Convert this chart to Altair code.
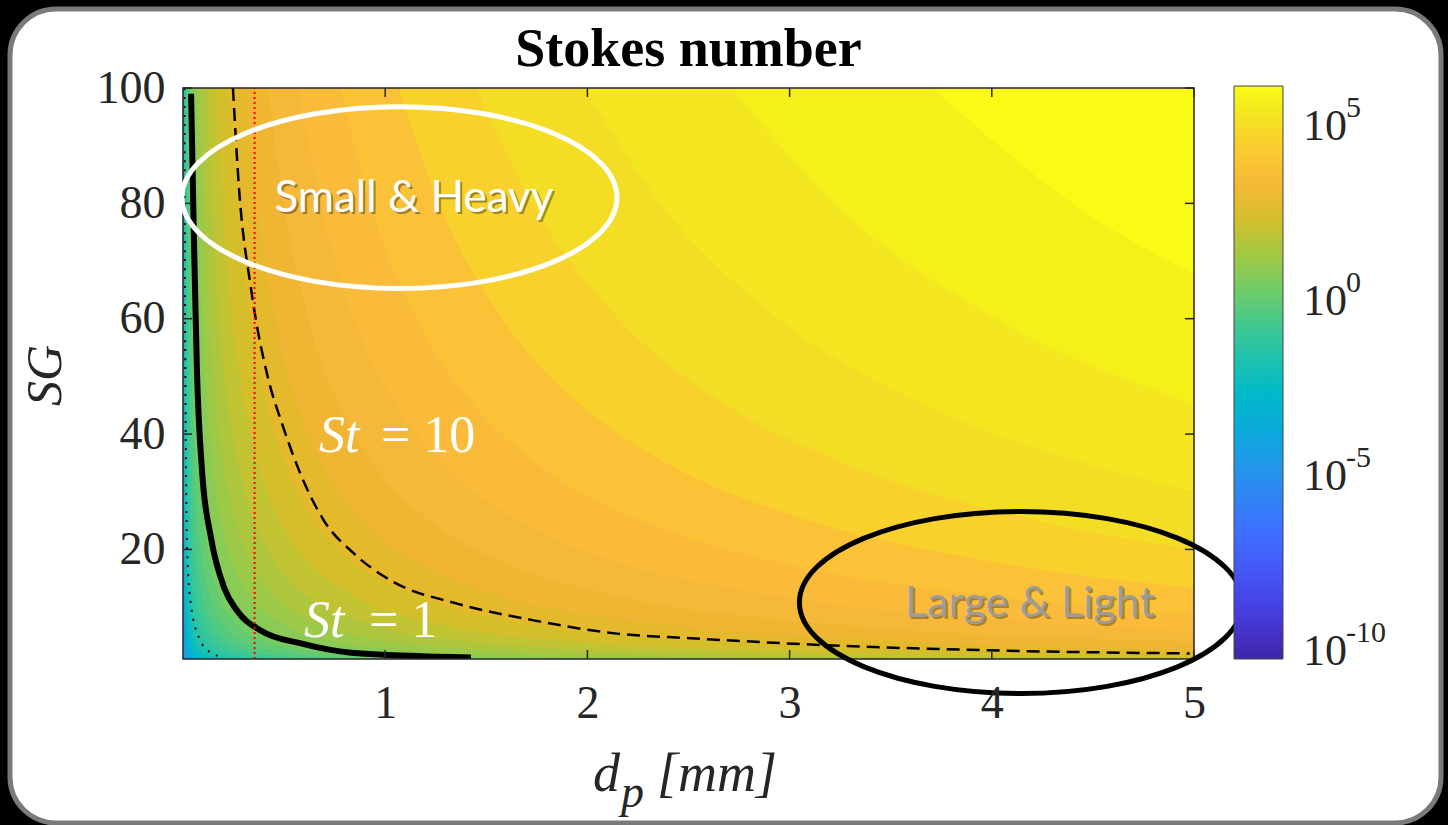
import altair as alt
import pandas as pd

# ---------------- values ----------------
# SG values at which the filled-contour boundaries were read
SG_PTS = [100, 80, 60, 45, 35, 25, 18, 12, 7, 4, 2.5, 1.6, 1.2, 1]

# d_p [mm] of each filled-contour boundary at SG_PTS (read until the curve leaves the plot)
BAND_D = [
    [3.705, 4.400, 5.488],
    [2.714, 3.223, 4.021, 5.017],
    [1.987, 2.360, 2.944, 3.673, 4.457, 5.770],
    [1.454, 1.727, 2.154, 2.688, 3.262, 4.222, 5.437],
    [1.066, 1.266, 1.579, 1.970, 2.391, 3.095, 3.985, 5.446],
    [0.779, 0.925, 1.154, 1.440, 1.748, 2.263, 2.913, 3.981, 6.023],
    [0.571, 0.678, 0.845, 1.055, 1.280, 1.657, 2.134, 2.916, 4.411, 6.783],
    [0.419, 0.497, 0.620, 0.774, 0.939, 1.215, 1.565, 2.139, 3.235, 4.975, 7.143],
    [0.307, 0.364, 0.454, 0.566, 0.687, 0.890, 1.146, 1.566, 2.369, 3.643, 5.230],
    [0.224, 0.266, 0.332, 0.414, 0.503, 0.651, 0.838, 1.146, 1.733, 2.665, 3.826, 5.392],
    [0.164, 0.195, 0.243, 0.304, 0.368, 0.477, 0.614, 0.839, 1.270, 1.952, 2.803, 3.950, 4.929, 5.670],
    [0.120, 0.143, 0.178, 0.222, 0.270, 0.349, 0.449, 0.614, 0.929, 1.429, 2.051, 2.891, 3.608, 4.150],
    [0.0881, 0.1046, 0.1304, 0.1628, 0.1975, 0.2557, 0.3292, 0.450, 0.681, 1.047, 1.503, 2.118, 2.643, 3.040],
    [0.0646, 0.0767, 0.0957, 0.1194, 0.1449, 0.1876, 0.2415, 0.330, 0.499, 0.768, 1.102, 1.553, 1.939, 2.230],
    [0.0472, 0.0561, 0.0699, 0.0873, 0.1059, 0.1371, 0.1765, 0.2412, 0.365, 0.561, 0.806, 1.135, 1.417, 1.630],
    [0.0346, 0.0411, 0.0512, 0.0639, 0.0776, 0.1004, 0.1293, 0.1767, 0.2673, 0.411, 0.590, 0.832, 1.038, 1.194],
    [0.0253, 0.0301, 0.0375, 0.0468, 0.0568, 0.0735, 0.0947, 0.1294, 0.1957, 0.301, 0.432, 0.609, 0.760, 0.874],
    [0.0185, 0.0220, 0.0275, 0.0343, 0.0416, 0.0538, 0.0693, 0.0947, 0.1433, 0.2204, 0.3164, 0.4458, 0.5564, 0.640],
    [0.0136, 0.0161, 0.0201, 0.0251, 0.0305, 0.0394, 0.0508, 0.0694, 0.1050, 0.1615, 0.2318, 0.3267, 0.4077, 0.469],
    [0.0099, 0.0118, 0.0147, 0.0184, 0.0223, 0.0289, 0.0371, 0.0508, 0.0768, 0.1181, 0.1695, 0.2389, 0.2982, 0.343],
    [0.0073, 0.0086, 0.0108, 0.0134, 0.0163, 0.0211, 0.0272, 0.0371, 0.0562, 0.0864, 0.1241, 0.1748, 0.2182, 0.251],
    [0.0053, 0.0063, 0.0079, 0.0099, 0.0120, 0.0155, 0.0199, 0.0272, 0.0412, 0.0634, 0.0910, 0.1282, 0.1600, 0.184],
    [0.0029, 0.0034, 0.0043, 0.0054, 0.0065, 0.0084, 0.0108, 0.0148, 0.0224, 0.0344, 0.0494, 0.0697, 0.0869, 0.100],
    [0.0014, 0.0017, 0.0021, 0.0026, 0.0032, 0.0042, 0.0053, 0.0073, 0.0110, 0.0170, 0.0244, 0.0343, 0.0429, 0.0493],
]
# log10 colour value of the band lying above each boundary
BAND_C = [5.75, 5.4, 5.05, 4.7, 4.2, 3.6, 3.25, 3.0, 2.75, 2.4, 2.0, 1.6, 1.2, 0.85,
          0.5, 0.1, -0.3, -0.65, -1.0, -1.35, -1.7, -2.05, -2.6, -3.4]
BASE_C = -4.6

# St = 1 (thick solid), St = 10 (dashed), St = 0.1 (dotted) iso-lines
ST1_D = [0.040, 0.054, 0.069, 0.094, 0.138, 0.203, 0.267, 0.386, 0.583, 0.831, 1.424]
ST1_SG = [99.0, 73.9, 51.0, 33.7, 22.1, 13.4, 9.4, 5.9, 3.7, 2.1, 1.27]
ST10_D = [0.247, 0.277, 0.336, 0.425, 0.485, 0.574, 0.697, 0.845, 1.028, 1.355, 1.735,
          2.146, 2.512, 3.248, 3.990, 4.979]
ST10_SG = [100, 82.6, 65.3, 49.1, 42.3, 33.7, 25.0, 19.3, 14.6, 10.6, 7.7, 5.4, 4.6, 3.3, 2.5, 1.96]
ST01_D = [0.007, 0.009, 0.0125, 0.016, 0.021, 0.038, 0.079, 0.137, 0.203]
ST01_SG = [100, 70, 45, 30, 19.3, 10.7, 4.7, 2.1, 1.27]
RED_D = 0.354

X_TICKS = [1, 2, 3, 4, 5]
Y_TICKS = [20, 40, 60, 80, 100]
CBAR_TICKS = [-10, -5, 0, 5]          # colour-bar ticks, log10 scale
CBAR_EXP = ["-10", "-5", "0", "5"]    # exponents shown as 10^x

TITLE = "Stokes number"
# annotations: (text, d, SG)
NOTE_SH = ("Small & Heavy", 1.142, 78.5)
NOTE_LL = ("Large & Light", 4.189, 8.3)
ST10_NOTE = ("St", "= 10", 0.673, 0.979, 36.9)
ST1_NOTE = ("St", "= 1", 0.598, 0.920, 4.8)
ELL_W = (1.0705, 81.0)
ELL_B = (4.144, 10.8)

# ---------------- styling ----------------
X_MIN, X_MAX = 0.0, 5.0
SG_MIN, SG_MAX = 1.0, 100.0
W, H = 1011, 571
CMIN, CMAX = -10.57, 5.8
CB_X, CB_Y, CB_W, CB_L = 1051, -2, 49, 573   # colour bar box, relative to plot corner
PARULA_POS = [0.0, 0.06, 0.111, 0.167, 0.222, 0.278, 0.333, 0.389, 0.444, 0.5, 0.556,
              0.611, 0.667, 0.722, 0.778, 0.81, 0.84, 0.875, 0.905, 0.937, 0.968, 1.0]
PARULA_HEX = ["#3e26a8", "#4535d4", "#4747eb", "#435bf8", "#3e6fff", "#3283f4", "#2796eb",
              "#19a7de", "#08b5d0", "#1cbfb8", "#31c69f", "#57ca7c", "#81cc59", "#b0c63c",
              "#dcbd29", "#eeb532", "#fbb93b", "#fcc636", "#f8d22b", "#f3df24", "#f5ec1c",
              "#f9fb15"]
SERIF = "Liberation Serif"
INK = "#262626"

xs = alt.Scale(domain=[X_MIN, X_MAX], nice=False, zero=False)
ys = alt.Scale(domain=[SG_MIN, SG_MAX], nice=False, zero=False)
cs = alt.Scale(domain=[CMIN + p * (CMAX - CMIN) for p in PARULA_POS], range=PARULA_HEX)

xaxis = alt.Axis(values=X_TICKS, title=None, ticks=False, domain=False, grid=False,
                 labelFont=SERIF, labelFontSize=46, labelColor=INK, labelPadding=22,
                 labelFlush=False, format="d", zindex=1)
yaxis = alt.Axis(values=Y_TICKS, title="SG", ticks=False, domain=False, grid=False,
                 labelFont=SERIF, labelFontSize=46, labelColor=INK, labelPadding=18,
                 format="d", zindex=1,
                 titleFont=SERIF, titleFontStyle="italic", titleFontWeight="normal",
                 titleFontSize=50, titleColor=INK, titleX=-138, titleY=287, titleAngle=270,
                 titleAlign="center", titleBaseline="middle")
legend = alt.Legend(title=None, orient="none", legendX=CB_X, legendY=CB_Y, direction="vertical",
                    gradientLength=CB_L, gradientThickness=CB_W, gradientStrokeColor="#444",
                    gradientStrokeWidth=1, values=CBAR_TICKS, labelOpacity=0, padding=0)


def X(field):
    return alt.X(field, type="quantitative", scale=xs, axis=xaxis)


def Y(field):
    return alt.Y(field, type="quantitative", scale=ys, axis=yaxis)


def XD(v):
    return alt.XDatum(v, type="quantitative", scale=xs, axis=xaxis)


def YD(v):
    return alt.YDatum(v, type="quantitative", scale=ys, axis=yaxis)


COLOR = alt.Color("c:Q", scale=cs, legend=legend)

# ---------------- tables ----------------
rows = [{"level": 0, "d": X_MIN, "sg": SG_MIN, "c": BASE_C},
        {"level": 0, "d": X_MAX, "sg": SG_MIN, "c": BASE_C}]
order = list(range(len(BAND_D)))[::-1]
for n, k in enumerate(order, start=1):
    ds = BAND_D[k]
    for d, sg in zip(ds, SG_PTS):
        rows.append({"level": n, "d": d, "sg": sg, "c": BAND_C[k]})
    if len(ds) == len(SG_PTS) and ds[-1] < X_MAX:
        rows.append({"level": n, "d": X_MAX, "sg": SG_MIN, "c": BAND_C[k]})
bands = pd.DataFrame(rows)

st1 = pd.DataFrame({"d": ST1_D, "sg": ST1_SG})
st10 = pd.DataFrame({"d": ST10_D, "sg": ST10_SG})
st01 = pd.DataFrame({"d": ST01_D, "sg": ST01_SG})
red = pd.DataFrame({"d": [RED_D, RED_D], "sg": [SG_MIN, SG_MAX]})
xt = pd.DataFrame({"t": X_TICKS})
yt = pd.DataFrame({"t": Y_TICKS})
one = pd.DataFrame({"k": [0]})

# ---------------- layers ----------------
panel = alt.Chart(one).mark_rect(fill="white", stroke="#7a7a7a", strokeWidth=5,
                                 cornerRadius=46).encode(
    x=alt.value(-173), x2=alt.value(1258), y=alt.value(-79), y2=alt.value(735))

band_layers = [
    alt.Chart(bands).transform_filter(alt.datum.level == n)
    .mark_area(interpolate="monotone", clip=True)
    .encode(x=X("d"), y=Y("sg"), y2=alt.Y2Datum(SG_MAX), color=COLOR)
    for n in range(len(order) + 1)
]

l_st01 = alt.Chart(st01).mark_line(color="black", strokeWidth=2, strokeDash=[2, 7],
                                   interpolate="monotone", clip=True).encode(x=X("d"), y=Y("sg"))
l_st1 = alt.Chart(st1).mark_line(color="black", strokeWidth=6,
                                 interpolate="monotone", clip=True).encode(x=X("d"), y=Y("sg"))
l_st10 = alt.Chart(st10).mark_line(color="black", strokeWidth=2.5, strokeDash=[13, 7],
                                   interpolate="monotone", clip=True).encode(x=X("d"), y=Y("sg"))
l_red = alt.Chart(red).mark_line(color="#ff0000", strokeWidth=2, strokeDash=[2, 3],
                                 clip=True).encode(x=X("d"), y=Y("sg"))

frame = alt.Chart(one).mark_rect(fill="transparent", stroke=INK, strokeWidth=1.5).encode(
    x=XD(X_MIN), x2=alt.X2Datum(X_MAX), y=YD(SG_MIN), y2=alt.Y2Datum(SG_MAX))
tk_bottom = alt.Chart(xt).mark_rule(color=INK, strokeWidth=1.5).encode(
    x=X("t"), y=alt.value(H - 9), y2=alt.value(H))
tk_top = alt.Chart(xt).mark_rule(color=INK, strokeWidth=1.5).encode(
    x=X("t"), y=alt.value(0), y2=alt.value(9))
tk_left = alt.Chart(yt).mark_rule(color=INK, strokeWidth=1.5).encode(
    y=Y("t"), x=alt.value(0), x2=alt.value(9))
tk_right = alt.Chart(yt).mark_rule(color=INK, strokeWidth=1.5).encode(
    y=Y("t"), x=alt.value(W - 9), x2=alt.value(W))

ell_w = alt.Chart(one).mark_point(
    shape="M -1 0 A 1 0.418 0 1 1 1 0 A 1 0.418 0 1 1 -1 0 Z",
    size=435 ** 2, filled=False, stroke="white", strokeWidth=5, opacity=1).encode(
    x=XD(ELL_W[0]), y=YD(ELL_W[1]))
ell_b = alt.Chart(one).mark_point(
    shape="M -1 0 A 1 0.411 0 1 1 1 0 A 1 0.411 0 1 1 -1 0 Z",
    size=443 ** 2, filled=False, stroke="black", strokeWidth=5, opacity=1).encode(
    x=XD(ELL_B[0]), y=YD(ELL_B[1]))


def note(txt, d, sg, color, font, size, style="normal", align="center", dx=0, dy=0, op=1.0):
    return alt.Chart(one).mark_text(text=txt, font=font, fontSize=size, fontStyle=style,
                                    color=color, align=align, baseline="alphabetic",
                                    dx=dx, dy=dy, opacity=op).encode(x=XD(d), y=YD(sg))


notes = [
    note(NOTE_SH[0], NOTE_SH[1], NOTE_SH[2], "#000000", "Lato", 44, dx=2, dy=2, op=0.35),
    note(NOTE_SH[0], NOTE_SH[1], NOTE_SH[2], "#ffffff", "Lato", 44),
    note(NOTE_LL[0], NOTE_LL[1], NOTE_LL[2], "#000000", "Lato", 43, dx=2, dy=2, op=0.3),
    note(NOTE_LL[0], NOTE_LL[1], NOTE_LL[2], "#9c9c9c", "Lato", 43),
    note(ST10_NOTE[0], ST10_NOTE[2], ST10_NOTE[4], "white", SERIF, 52, "italic", "left"),
    note(ST10_NOTE[1], ST10_NOTE[3], ST10_NOTE[4], "white", SERIF, 52, "normal", "left"),
    note(ST1_NOTE[0], ST1_NOTE[2], ST1_NOTE[4], "white", SERIF, 52, "italic", "left"),
    note(ST1_NOTE[1], ST1_NOTE[3], ST1_NOTE[4], "white", SERIF, 52, "normal", "left"),
]


def ptext(txt, px, py, size=54, style="italic", weight="normal", align="left", color=INK):
    return alt.Chart(one).mark_text(text=txt, font=SERIF, fontSize=size, fontStyle=style,
                                    fontWeight=weight, color=color, align=align,
                                    baseline="alphabetic").encode(
        x=alt.value(px), y=alt.value(py))


# x-axis title d_p [mm] (pixel offsets from the plot's top-left corner)
xtitle = [ptext("d", 410, 703), ptext("p", 438, 719, size=46), ptext("[mm]", 474, 703)]
title = ptext(TITLE, W / 2, -22, size=54, style="normal", weight="bold", align="center",
              color="black")

# colour-bar labels 10^x and inner ticks, placed along the bar
cb_layers = []
for v, e in zip(CBAR_TICKS, CBAR_EXP):
    ty = CB_Y + (CMAX - v) / (CMAX - CMIN) * CB_L
    cb_layers.append(alt.Chart(one).mark_rule(color=INK, strokeWidth=1.5).encode(
        x=alt.value(CB_X + CB_W - 6), x2=alt.value(CB_X + CB_W),
        y=alt.value(ty), y2=alt.value(ty)))
    cb_layers.append(ptext("10", CB_X + CB_W + 20, ty + 26, size=44, style="normal"))
    cb_layers.append(ptext(e, CB_X + CB_W + 63, ty + 3, size=30, style="normal"))

chart = alt.layer(
    panel, *band_layers, l_st01, l_st1, l_st10, l_red, frame,
    tk_bottom, tk_top, tk_left, tk_right, ell_w, ell_b, *notes, *xtitle, title, *cb_layers
).properties(
    width=W, height=H,
    padding={"left": 183, "top": 88, "right": 254, "bottom": 166},
    autosize=alt.AutoSizeParams(type="none"),
).configure(background="black").configure_view(strokeWidth=0)

chart.save("out.html", embed_options={"renderer": "svg", "actions": False})
